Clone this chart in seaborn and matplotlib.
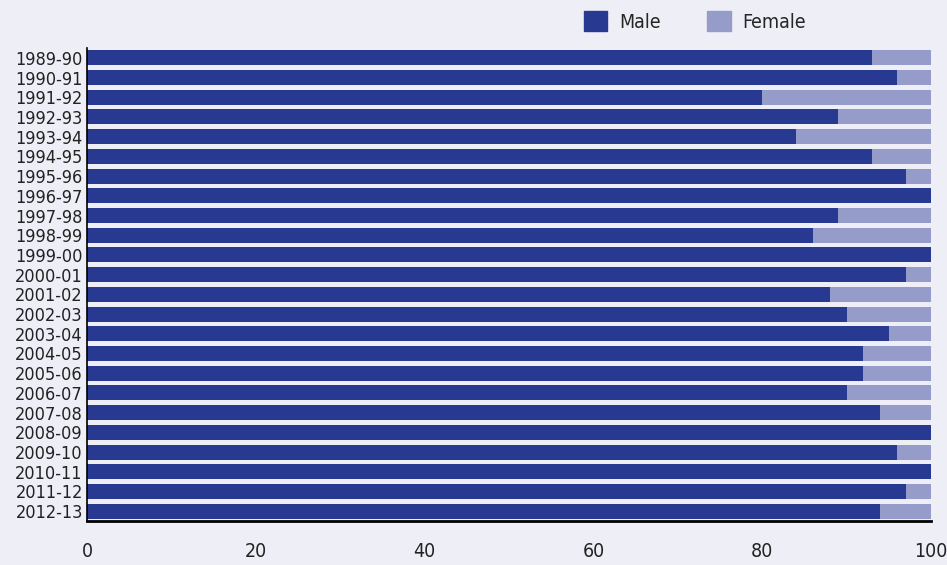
import pandas as pd
import matplotlib.pyplot as plt
import seaborn as sns
from matplotlib.patches import Patch

# Data
years = ["1989-90", "1990-91", "1991-92", "1992-93", "1993-94", "1994-95",
         "1995-96", "1996-97", "1997-98", "1998-99", "1999-00", "2000-01",
         "2001-02", "2002-03", "2003-04", "2004-05", "2005-06", "2006-07",
         "2007-08", "2008-09", "2009-10", "2010-11", "2011-12", "2012-13"]
male = [93, 96, 80, 89, 84, 93, 97, 100, 89, 86, 100, 97,
        88, 90, 95, 92, 92, 90, 94, 100, 96, 100, 97, 94]
female = [100 - m for m in male]

df = pd.DataFrame({"Year": years, "Male": male, "Female": female})
df["Total"] = df["Male"] + df["Female"]

male_color = "#283991"
female_color = "#959CC9"
bg = "#EEEEF6"

sns.set_style("white")
plt.rcParams["font.family"] = ["DejaVu Sans"]
plt.rcParams["font.stretch"] = "condensed"

fig = plt.figure(figsize=(9.47, 5.65), dpi=100, facecolor=bg)
ax = fig.add_axes([87 / 947, 1 - 521 / 565, (931 - 87) / 947, (521 - 48) / 565])
ax.set_facecolor(bg)

# Stacked bars: total (female on the right) then male over it
sns.barplot(data=df, y="Year", x="Total", color=female_color, width=0.76,
            orient="h", saturation=1, linewidth=0, ax=ax)
sns.barplot(data=df, y="Year", x="Male", color=male_color, width=0.76,
            orient="h", saturation=1, linewidth=0, ax=ax)

ax.set_xlim(0, 100)
ax.set_xticks([0, 20, 40, 60, 80, 100])
ax.set_xlabel("")
ax.set_ylabel("")
ax.set_ylim(23.5, -0.5)

for s in ["top", "right"]:
    ax.spines[s].set_visible(False)
ax.spines["left"].set_linewidth(1.2)
ax.spines["bottom"].set_linewidth(2)
ax.spines["left"].set_color("black")
ax.spines["bottom"].set_color("black")

ax.tick_params(axis="x", direction="in", length=5, width=1, pad=15,
               labelsize=14, colors="black", labelcolor="#222222")
ax.tick_params(axis="y", length=0, pad=3, labelsize=13, labelcolor="#222222")

handles = [Patch(color=male_color, label="Male"),
           Patch(color=female_color, label="Female")]
fig.legend(handles=handles, loc="center", bbox_to_anchor=(0.734, 0.962),
           ncol=2, frameon=False, fontsize=14, handlelength=1.2,
           handleheight=1.2, columnspacing=2.4, handletextpad=0.6)

plt.savefig("out.png", dpi=100, facecolor=bg)
